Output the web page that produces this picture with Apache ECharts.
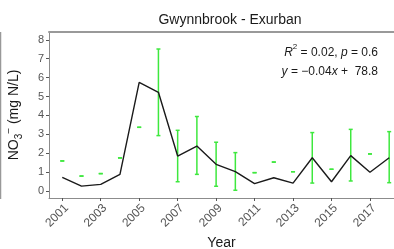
<!DOCTYPE html>
<html>
<head>
<meta charset="utf-8">
<script src="https://cdn.jsdelivr.net/npm/echarts@6/dist/echarts.min.js"></script>
<style>
  html, body { margin: 0; padding: 0; background: #fff; }
  #main { width: 394px; height: 249px; }
</style>
</head>
<body>
<div id="main"></div>
<script>
// data
var years = [2001, 2002, 2003, 2004, 2005, 2006, 2007, 2008, 2009, 2010, 2011, 2012, 2013, 2014, 2015, 2016, 2017, 2018];
var lineVals = [0.72, 0.26, 0.35, 0.88, 5.75, 5.22, 1.85, 2.38, 1.41, 1.02, 0.39, 0.70, 0.42, 1.76, 0.49, 1.87, 0.99, 1.76];
var errLow  = [1.59, 0.79, 0.92, 1.75, 3.37, 2.93, 0.49, 0.88, 0.25, 0.04, 0.97, 1.53, 1.02, 0.42, 1.15, 0.53, 1.96, 0.44];
var errHigh = [1.59, 0.79, 0.92, 1.75, 3.37, 7.51, 3.21, 3.94, 2.58, 2.03, 0.97, 1.53, 1.02, 3.09, 1.15, 3.26, 1.96, 3.14];
var xTicks = [2001, 2003, 2005, 2007, 2009, 2011, 2013, 2015, 2017];
var yTicks = [0, 1, 2, 3, 4, 5, 6, 7, 8];

var myChart = echarts.init(document.getElementById('main'));

var lineData = years.map(function (y, i) { return [y, lineVals[i]]; });
var errData = years.map(function (y, i) { return [y, errLow[i], errHigh[i]]; });

var font = 'Liberation Sans, Arial, sans-serif';
var green = '#3ee83e';

var option = {
    animation: false,
    title: {
        text: 'Gwynnbrook - Exurban',
        left: 225,
        textAlign: 'center',
        top: 8,
        textStyle: { fontFamily: font, fontSize: 14, fontWeight: 'normal', color: '#1a1a1a' }
    },
    grid: { left: 49, top: 32, right: 0, bottom: 51, outerBoundsMode: 'none', containLabel: false },
    xAxis: [{
        type: 'value',
        min: 2000.31,
        max: 2018.25,
        name: 'Year',
        nameLocation: 'middle',
        nameGap: 37,
        nameTextStyle: { fontFamily: font, fontSize: 14, color: '#1a1a1a' },
        splitLine: { show: false },
        axisLine: { onZero: false, lineStyle: { color: '#8c8c8c', width: 1 } },
        axisTick: { customValues: xTicks, length: 3, lineStyle: { color: '#555' } },
        axisLabel: {
            customValues: xTicks,
            formatter: function (v) { return String(v); },
            rotate: 45,
            margin: 4,
            verticalAlign: 'top',
            fontFamily: font,
            fontSize: 12,
            color: '#555'
        }
    }, {
        type: 'value',
        position: 'top',
        min: 2000.31,
        max: 2018.25,
        splitLine: { show: false },
        axisLine: { onZero: false, lineStyle: { color: '#999', width: 2 } },
        axisTick: { show: false },
        axisLabel: { show: false }
    }],
    yAxis: {
        type: 'value',
        min: -0.37,
        max: 8.41,
        name: '{n|NO}{b|3}{p|\u2212}{n| (mg N/L)}',
        nameLocation: 'middle',
        nameGap: 25,
        nameRotate: 90,
        nameTextStyle: {
            fontFamily: font,
            fontSize: 14,
            color: '#1a1a1a',
            rich: {
                n: { fontFamily: font, fontSize: 14, color: '#1a1a1a', lineHeight: 20 },
                b: { fontFamily: font, fontSize: 10, color: '#1a1a1a', verticalAlign: 'bottom', lineHeight: 20 },
                p: { fontFamily: font, fontSize: 10, color: '#1a1a1a', verticalAlign: 'top', lineHeight: 20 }
            }
        },
        splitLine: { show: false },
        axisLine: { show: true, onZero: false, lineStyle: { color: '#8c8c8c', width: 1 } },
        axisTick: { customValues: yTicks, length: 3, lineStyle: { color: '#555' } },
        axisLabel: {
            customValues: yTicks,
            margin: 5,
            fontFamily: font,
            fontSize: 11,
            color: '#555'
        }
    },
    graphic: [{
        type: 'line',
        shape: { x1: 0.5, y1: 32, x2: 0.5, y2: 199 },
        style: { stroke: '#999', lineWidth: 1.5 }
    }, {
        type: 'text',
        right: 16,
        top: 43,
        style: {
            text: '{i|R}{s|2}{n| = 0.02, }{i|p}{n| = 0.6}\n{i|y}{n| = \u22120.04}{i|x}{n| +  78.8}',
            textAlign: 'right',
            fontFamily: font,
            fontSize: 12,
            fill: '#1a1a1a',
            lineHeight: 19,
            rich: {
                n: { fontFamily: font, fontSize: 12, fill: '#1a1a1a', lineHeight: 19 },
                i: { fontFamily: font, fontSize: 12, fontStyle: 'italic', fill: '#1a1a1a', lineHeight: 19 },
                s: { fontFamily: font, fontSize: 8, fill: '#1a1a1a', verticalAlign: 'top', lineHeight: 19 }
            }
        }
    }],
    series: [{
        name: 'err',
        type: 'custom',
        data: errData,
        z: 2,
        renderItem: function (params, api) {
            var x = api.value(0);
            var lo = api.coord([x, api.value(1)]);
            var hi = api.coord([x, api.value(2)]);
            var w = 2;
            var st = { stroke: green, lineWidth: 1.5 };
            return {
                type: 'group',
                children: [
                    { type: 'line', shape: { x1: lo[0], y1: lo[1], x2: hi[0], y2: hi[1] }, style: st },
                    { type: 'line', shape: { x1: lo[0] - w, y1: lo[1], x2: lo[0] + w, y2: lo[1] }, style: st },
                    { type: 'line', shape: { x1: hi[0] - w, y1: hi[1], x2: hi[0] + w, y2: hi[1] }, style: st }
                ]
            };
        }
    }, {
        name: 'mean',
        type: 'line',
        data: lineData,
        z: 3,
        symbol: 'none',
        lineStyle: { color: '#1a1a1a', width: 1.4 }
    }]
};

myChart.setOption(option);
</script>
</body>
</html>
